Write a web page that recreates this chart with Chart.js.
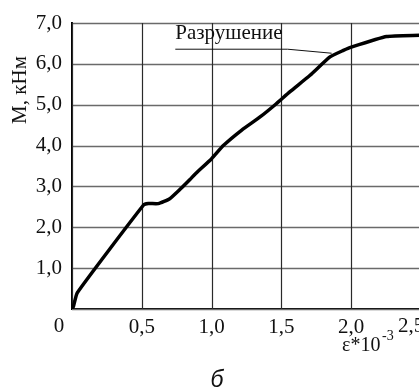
<!DOCTYPE html>
<html>
<head>
<meta charset="utf-8">
<script src="https://cdn.jsdelivr.net/npm/chart.js@4"></script>
<style>
  html, body { margin: 0; padding: 0; background: #fff; overflow: hidden; }
  #wrap { width: 440px; height: 390px; }
</style>
</head>
<body>
<div id="wrap"><canvas id="chart" width="440" height="390"></canvas></div>
<script>
// Strain (eps * 10^-3) and moment (kN*m)
const strain = [0, 0.01, 0.038, 0.511, 0.547, 0.618, 0.70, 0.774, 0.845, 0.881, 1.0, 1.084, 1.216, 1.347, 1.455, 1.562, 1.705, 1.848, 1.944, 2.0, 2.254, 2.49];
const moment = [0, 0.06, 0.40, 2.54, 2.58, 2.58, 2.70, 2.93, 3.17, 3.30, 3.68, 4.0, 4.38, 4.70, 5.0, 5.32, 5.72, 6.17, 6.33, 6.41, 6.67, 6.70];

const xStep = 0.5;
const yStep = 1;

// Annotation "Разрушение" and the point it refers to
const noteText = 'Разрушение';
const noteAt = { x: 0.74, y: 6.75 };
const notePoint = { x: 1.86, y: 6.26 };

const serif = '"Liberation Serif", "Times New Roman", serif';
const fmt = v => v.toFixed(1).replace('.', ',');

// grid lines drawn from the scale ticks
const gridLines = {
    id: 'gridLines',
    beforeDatasetsDraw(chart) {
        const c = chart.ctx;
        const xs = chart.scales.x, ys = chart.scales.y;
        const a = chart.chartArea;
        c.save();
        c.strokeStyle = '#6a6a6a';
        c.lineWidth = 1.6;
        ys.ticks.forEach(t => {
            const y = Math.round(ys.getPixelForValue(t.value)) + 0.5;
            c.beginPath();
            c.moveTo(a.left, y);
            c.lineTo(a.right + 20, y);
            c.stroke();
        });
        c.strokeStyle = '#2a2a2a';
        c.lineWidth = 1.2;
        xs.ticks.forEach(t => {
            const x = Math.round(xs.getPixelForValue(t.value)) + 0.5;
            c.beginPath();
            c.moveTo(x, a.top);
            c.lineTo(x, a.bottom);
            c.stroke();
        });
        c.restore();
    }
};

const extras = {
    id: 'extras',
    afterDraw(chart) {
        const c = chart.ctx;
        const xs = chart.scales.x, ys = chart.scales.y;
        c.save();
        c.fillStyle = '#111';

        // origin label and the last (edge) label, both shifted left
        c.font = '21px ' + serif;
        c.textAlign = 'center';
        c.textBaseline = 'middle';
        c.fillText('0', xs.getPixelForValue(0) - 13, ys.bottom + 17);
        c.fillText(fmt(xs.max), xs.getPixelForValue(xs.max) - 10, ys.bottom + 17);

        // y title
        c.save();
        c.translate(20, 90);
        c.rotate(-Math.PI / 2);
        c.fillText('M, кНм', 0, 0);
        c.restore();

        // x title with superscript
        c.textAlign = 'left';
        c.font = '20px ' + serif;
        c.fillText('ε*10', 342, 346);
        c.font = '14px ' + serif;
        c.fillText('-3', 382, 336);

        // panel letter
        c.font = 'italic 23px "Liberation Sans", Arial, sans-serif';
        c.textAlign = 'center';
        c.fillText('б', 217, 381);

        // annotation with leader line
        const tx = xs.getPixelForValue(noteAt.x);
        const ty = ys.getPixelForValue(noteAt.y);
        c.font = '21px ' + serif;
        c.textAlign = 'left';
        c.fillText(noteText, tx, ty);
        const w = c.measureText(noteText).width;
        const uy = ty + 16;
        c.strokeStyle = '#111';
        c.lineWidth = 1;
        c.beginPath();
        c.moveTo(tx, uy);
        c.lineTo(tx + w + 5, uy);
        c.lineTo(xs.getPixelForValue(notePoint.x), ys.getPixelForValue(notePoint.y));
        c.stroke();
        c.restore();
    }
};

new Chart(document.getElementById('chart'), {
    type: 'line',
    data: {
        datasets: [{
            data: strain.map((x, i) => ({ x: x, y: moment[i] })),
            borderColor: '#000',
            borderWidth: 3.5,
            borderJoinStyle: 'round',
            borderCapStyle: 'round',
            pointRadius: 0,
            tension: 0.15,
            fill: false
        }]
    },
    options: {
        responsive: false,
        animation: false,
        layout: { padding: { top: 23, right: 19, left: 0, bottom: 0 } },
        plugins: { legend: { display: false }, tooltip: { enabled: false } },
        scales: {
            x: {
                type: 'linear',
                min: 0, max: 2.5,
                afterFit: s => { s.height = 81; },
                grid: { display: false, drawTicks: false },
                border: { display: true, color: '#000', width: 2 },
                ticks: {
                    stepSize: xStep,
                    padding: 6,
                    color: '#111',
                    font: { family: serif, size: 21 },
                    maxRotation: 0,
                    callback: v => (v === 0 || v === 2.5) ? '' : fmt(v)
                }
            },
            y: {
                type: 'linear',
                min: 0, max: 7,
                afterFit: s => { s.width = 72; },
                grid: { display: false, drawTicks: false },
                border: { display: true, color: '#000', width: 2 },
                ticks: {
                    stepSize: yStep,
                    padding: 10,
                    color: '#111',
                    font: { family: serif, size: 21 },
                    callback: v => v === 0 ? '' : fmt(v)
                }
            }
        }
    },
    plugins: [gridLines, extras]
});
</script>
</body>
</html>
